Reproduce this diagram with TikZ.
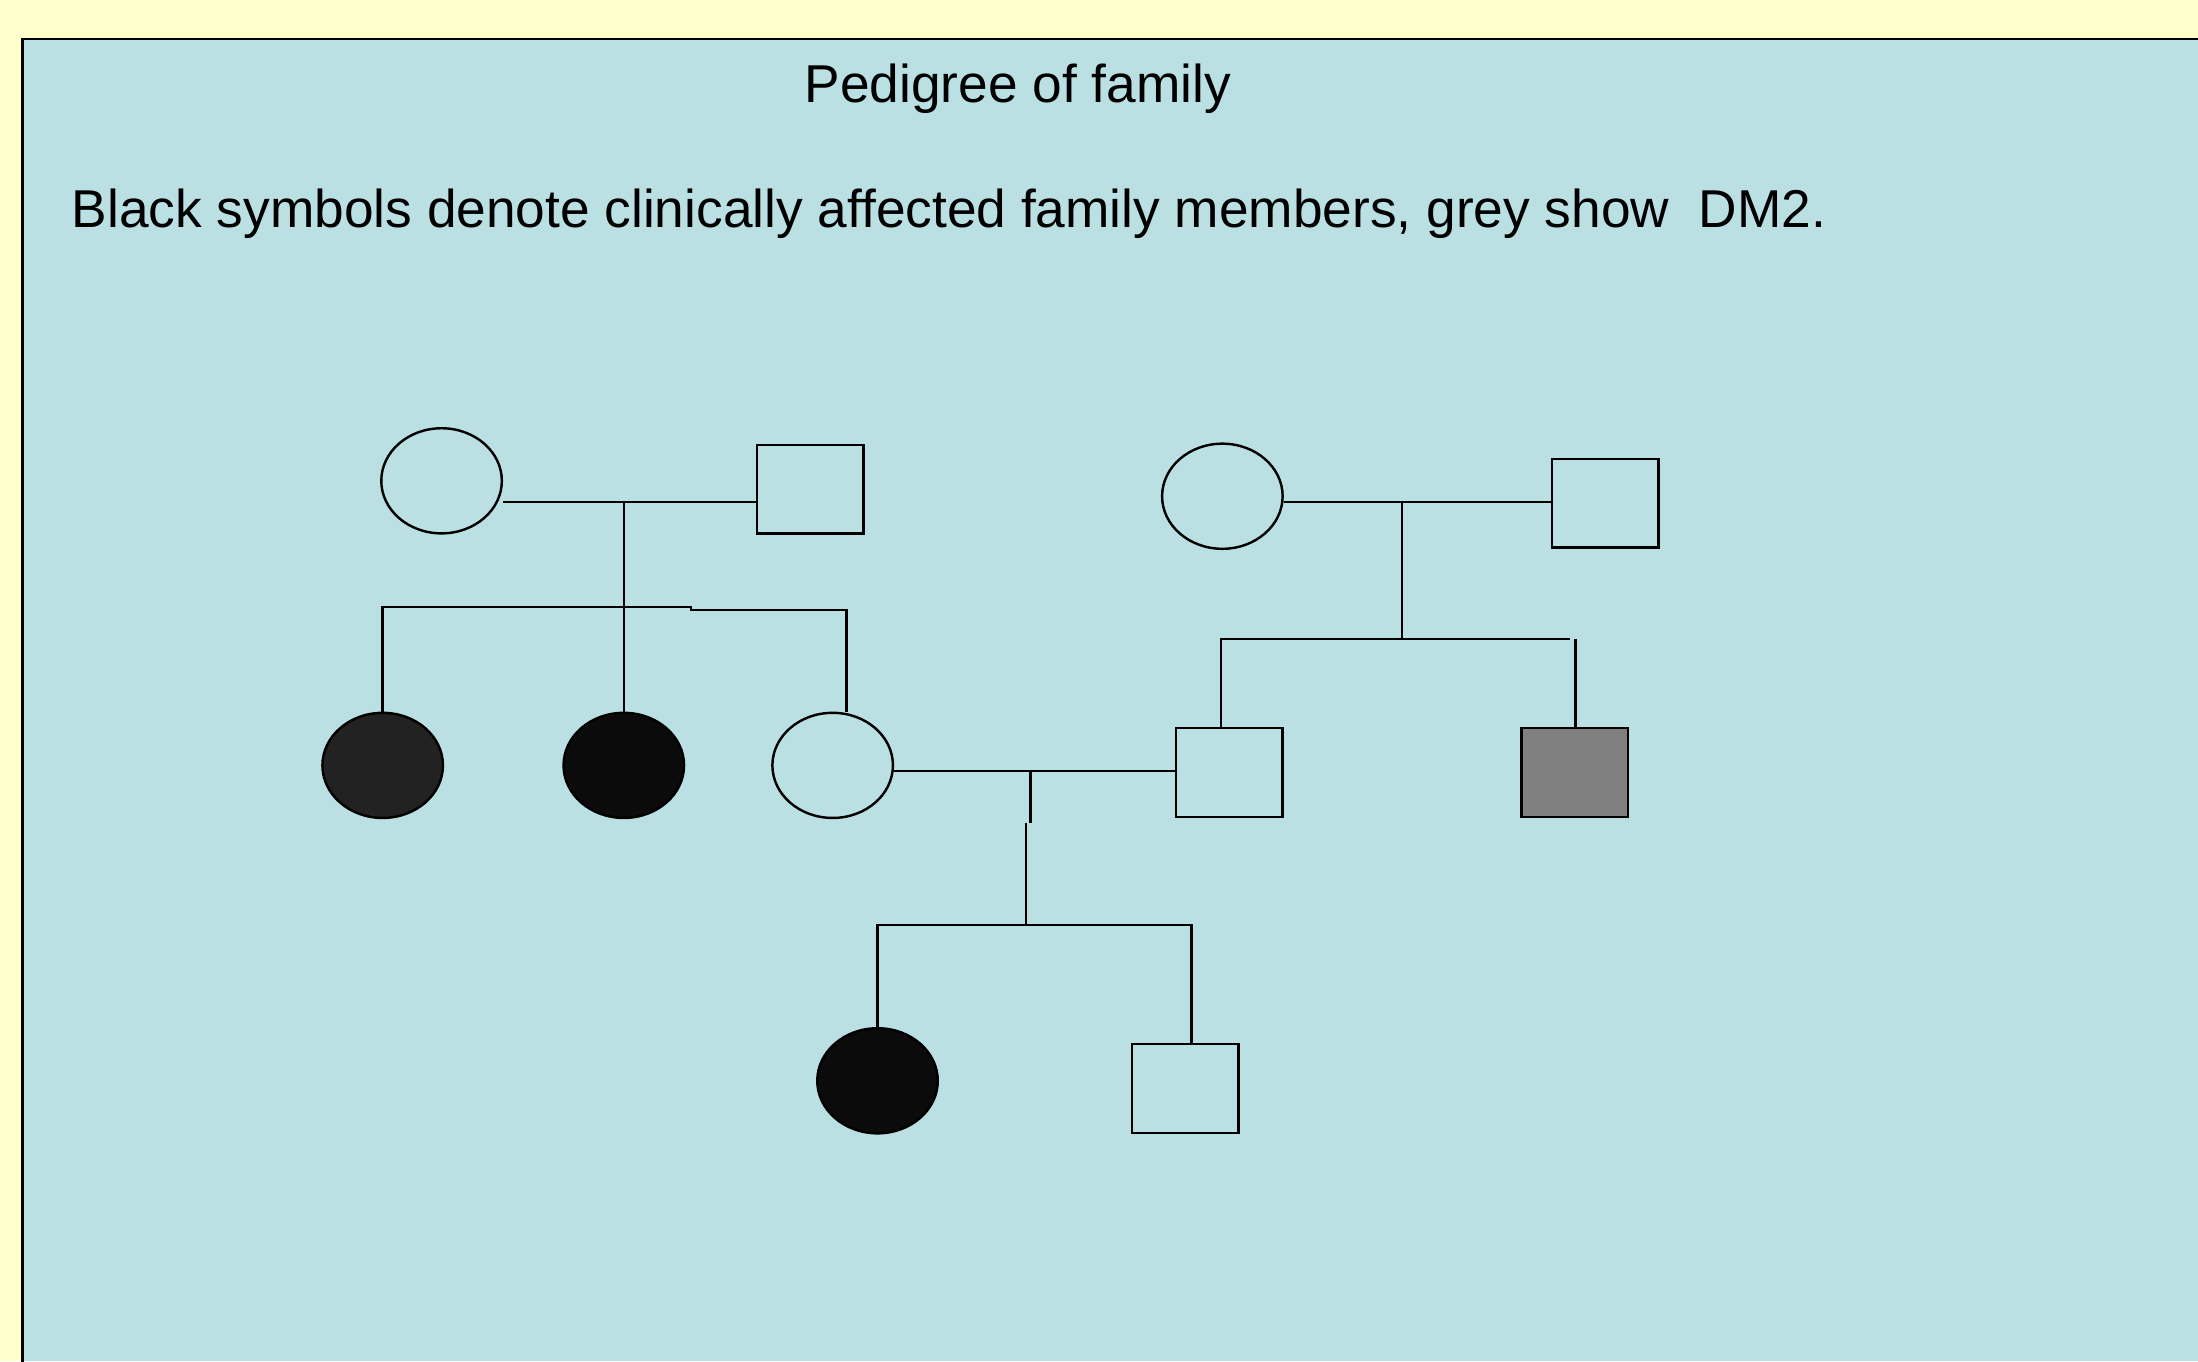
\documentclass[tikz,border=0pt]{standalone}
\usepackage{fontspec}
\setmainfont{Liberation Sans}
\usetikzlibrary{shapes.geometric,calc}
\definecolor{bgyellow}{HTML}{FFFFCC}
\definecolor{panelblue}{HTML}{BBE0E3}
\definecolor{darkfill}{HTML}{222222}
\definecolor{blackfill}{HTML}{0B0B0B}
\definecolor{greyfill}{HTML}{808080}
\begin{document}
\begin{tikzpicture}[x=0.75pt,y=-0.75pt,
  line/.style={draw=black,line width=1.3pt},
  female/.style={ellipse,draw=black,line width=1.3pt,inner sep=0pt,minimum width=64.5pt,minimum height=56.25pt},
  male/.style={rectangle,draw=black,line width=1.3pt,inner sep=0pt,minimum width=57pt,minimum height=47.5pt},
  lbl/.style={font=\fontsize{28.5}{34}\selectfont,inner sep=0pt,text=black}]
\useasboundingbox (0,0) rectangle (1568,971);
\fill[bgyellow] (0,0) rectangle (1568,971);
\fill[panelblue] (16,28) rectangle (1568,971);
\draw[line] (16,980) -- (16,28) -- (1580,28);

% texts
\node[lbl,anchor=base] (title) at (726,73) {Pedigree of family};
\node[lbl,anchor=base west] (caption) at (51,162) {Black symbols denote clinically affected family members, grey show\ \ DM2.};

% generation I
\node[female] (I1) at (315,343) {};
\node[male] (I2) at (578,349) {};
\node[female] (I3) at (872,354) {};
\node[male] (I4) at (1145,359) {};

% generation II
\node[female,fill=darkfill] (II1) at (273,546) {};
\node[female,fill=blackfill] (II2) at (445,546) {};
\node[female] (II3) at (594,546) {};
\node[male] (II4) at (877,551) {};
\node[male,fill=greyfill] (II5) at (1123.5,551) {};

% generation III
\node[female,fill=blackfill] (III1) at (626,771) {};
\node[male] (III2) at (845.5,776.5) {};

% left family
\coordinate (m1) at (445,358);
\coordinate (s1) at (445,433);
\coordinate (s1a) at (493,433);
\coordinate (s1b) at (493,435);
\coordinate (s1c) at (604,435);
\draw[line] (I1.east |- m1) -- (I2.west |- m1);
\draw[line] (m1) -- (s1) -- (II2.north);
\draw[line] (II1.north) |- (s1a) -- (s1b) -- (s1c) -- (s1c |- II3.north);

% right family
\coordinate (m2) at (1000,358);
\coordinate (s2) at (1000,456);
\coordinate (s2l) at (871,456);
\coordinate (s2r) at (1120,456);
\coordinate (s2v) at (1124,456);
\draw[line] (I3.east |- m2) -- (I4.west |- m2);
\draw[line] (m2) -- (s2);
\draw[line] (s2l |- II4.north) -- (s2l) -- (s2r);
\draw[line] (s2v) -- (s2v |- II5.north);

% couple of generation II
\coordinate (m3) at (735,550);
\coordinate (d3a) at (735,587);
\coordinate (d3b) at (732,587);
\coordinate (s3) at (732,660);
\coordinate (s3l) at (626,660);
\coordinate (s3r) at (850,660);
\draw[line] (II3.east |- m3) -- (II4.west |- m3);
\draw[line] (m3) -- (d3a);
\draw[line] (d3b) -- (s3);
\draw[line] (626,735) -- (s3l) -- (s3r) -- (s3r |- III2.north);
\end{tikzpicture}
\end{document}
